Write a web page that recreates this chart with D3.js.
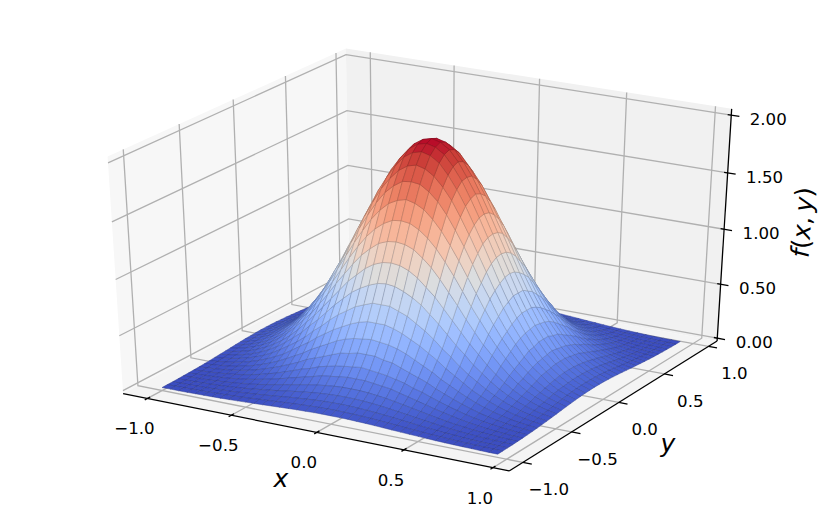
<!DOCTYPE html>
<html>
<head>
<meta charset="utf-8">
<script src="https://cdn.jsdelivr.net/npm/d3@7"></script>
<style>
  body { margin: 0; background: #fff; }
  text { font-family: "DejaVu Sans"; fill: #000; }
</style>
</head>
<body>
<svg id="chart" width="830" height="520"></svg>
<script>
var gridX = [-1,-.95,-.9,-.85,-.8,-.75,-.7,-.65,-.6,-.55,-.5,-.45,-.4,-.35,-.3,-.25,-.2,-.15,-.1,-.05,0,.05,.1,.15,.2,.25,.3,.35,.4,.45,.5,.55,.6,.65,.7,.75,.8,.85,.9,.95];
var gridY = [-1,-.95,-.9,-.85,-.8,-.75,-.7,-.65,-.6,-.55,-.5,-.45,-.4,-.35,-.3,-.25,-.2,-.15,-.1,-.05,0,.05,.1,.15,.2,.25,.3,.35,.4,.45,.5,.55,.6,.65,.7,.75,.8,.85,.9,.95];

// heights, rows run along y, columns along x
var surfaceZ = [
[.001,.002,.002,.003,.005,.006,.008,.01,.013,.016,.02,.023,.027,.031,.035,.039,.043,.045,.048,.049,.049,.049,.048,.045,.043,.039,.035,.031,.027,.023,.02,.016,.013,.01,.008,.006,.005,.003,.002,.002],
[.002,.003,.004,.005,.007,.009,.012,.015,.019,.023,.028,.034,.039,.045,.051,.056,.061,.065,.068,.07,.071,.07,.068,.065,.061,.056,.051,.045,.039,.034,.028,.023,.019,.015,.012,.009,.007,.005,.004,.003],
[.002,.004,.005,.007,.009,.012,.016,.021,.026,.033,.04,.047,.055,.063,.072,.079,.086,.092,.096,.099,.1,.099,.096,.092,.086,.079,.072,.063,.055,.047,.04,.033,.026,.021,.016,.012,.009,.007,.005,.004],
[.003,.005,.007,.01,.013,.017,.023,.029,.036,.045,.055,.065,.076,.088,.099,.11,.119,.127,.133,.137,.138,.137,.133,.127,.119,.11,.099,.088,.076,.065,.055,.045,.036,.029,.023,.017,.013,.01,.007,.005],
[.005,.007,.009,.013,.018,.023,.031,.039,.049,.061,.074,.089,.104,.119,.134,.149,.162,.172,.181,.186,.187,.186,.181,.172,.162,.149,.134,.119,.104,.089,.074,.061,.049,.039,.031,.023,.018,.013,.009,.007],
[.006,.009,.012,.017,.023,.031,.041,.052,.066,.082,.099,.118,.138,.159,.179,.198,.22,.23,.24,.25,.25,.25,.24,.23,.22,.198,.179,.159,.138,.118,.099,.082,.066,.052,.041,.031,.023,.017,.012,.009],
[.008,.012,.016,.023,.031,.041,.053,.068,.086,.107,.129,.154,.181,.21,.23,.26,.28,.3,.31,.32,.33,.32,.31,.3,.28,.26,.23,.21,.181,.154,.129,.107,.086,.068,.053,.041,.031,.023,.016,.012],
[.01,.015,.021,.029,.039,.052,.068,.088,.111,.137,.166,.198,.23,.27,.3,.33,.36,.39,.4,.42,.42,.42,.4,.39,.36,.33,.3,.27,.23,.198,.166,.137,.111,.088,.068,.052,.039,.029,.021,.015],
[.013,.019,.026,.036,.049,.066,.086,.111,.139,.172,.21,.25,.29,.34,.38,.42,.46,.49,.51,.52,.53,.52,.51,.49,.46,.42,.38,.34,.29,.25,.21,.172,.139,.111,.086,.066,.049,.036,.026,.019],
[.016,.023,.033,.045,.061,.082,.107,.137,.172,.21,.26,.31,.36,.42,.47,.52,.56,.6,.63,.65,.65,.65,.63,.6,.56,.52,.47,.42,.36,.31,.26,.21,.172,.137,.107,.082,.061,.045,.033,.023],
[.02,.028,.04,.055,.074,.099,.129,.166,.21,.26,.31,.37,.44,.5,.57,.63,.68,.73,.76,.79,.79,.79,.76,.73,.68,.63,.57,.5,.44,.37,.31,.26,.21,.166,.129,.099,.074,.055,.04,.028],
[.023,.034,.047,.065,.089,.118,.154,.198,.25,.31,.37,.45,.52,.6,.68,.75,.82,.87,.91,.94,.95,.94,.91,.87,.82,.75,.68,.6,.52,.45,.37,.31,.25,.198,.154,.118,.089,.065,.047,.034],
[.027,.039,.055,.076,.104,.138,.181,.23,.29,.36,.44,.52,.61,.7,.79,.88,.95,1.02,1.07,1.1,1.11,1.1,1.07,1.02,.95,.88,.79,.7,.61,.52,.44,.36,.29,.23,.181,.138,.104,.076,.055,.039],
[.031,.045,.063,.088,.119,.159,.21,.27,.34,.42,.5,.6,.7,.81,.91,1.01,1.1,1.17,1.23,1.26,1.27,1.26,1.23,1.17,1.1,1.01,.91,.81,.7,.6,.5,.42,.34,.27,.21,.159,.119,.088,.063,.045],
[.035,.051,.072,.099,.134,.179,.23,.3,.38,.47,.57,.68,.79,.91,1.03,1.14,1.24,1.32,1.38,1.42,1.43,1.42,1.38,1.32,1.24,1.14,1.03,.91,.79,.68,.57,.47,.38,.3,.23,.179,.134,.099,.072,.051],
[.039,.056,.079,.11,.149,.198,.26,.33,.42,.52,.63,.75,.88,1.01,1.14,1.26,1.37,1.46,1.53,1.57,1.59,1.57,1.53,1.46,1.37,1.26,1.14,1.01,.88,.75,.63,.52,.42,.33,.26,.198,.149,.11,.079,.056],
[.043,.061,.086,.119,.162,.22,.28,.36,.46,.56,.68,.82,.95,1.1,1.24,1.37,1.49,1.59,1.66,1.71,1.72,1.71,1.66,1.59,1.49,1.37,1.24,1.1,.95,.82,.68,.56,.46,.36,.28,.22,.162,.119,.086,.061],
[.045,.065,.092,.127,.172,.23,.3,.39,.49,.6,.73,.87,1.02,1.17,1.32,1.46,1.59,1.69,1.77,1.82,1.84,1.82,1.77,1.69,1.59,1.46,1.32,1.17,1.02,.87,.73,.6,.49,.39,.3,.23,.172,.127,.092,.065],
[.048,.068,.096,.133,.181,.24,.31,.4,.51,.63,.76,.91,1.07,1.23,1.38,1.53,1.66,1.77,1.86,1.91,1.93,1.91,1.86,1.77,1.66,1.53,1.38,1.23,1.07,.91,.76,.63,.51,.4,.31,.24,.181,.133,.096,.068],
[.049,.07,.099,.137,.186,.25,.32,.42,.52,.65,.79,.94,1.1,1.26,1.42,1.57,1.71,1.82,1.91,1.96,1.98,1.96,1.91,1.82,1.71,1.57,1.42,1.26,1.1,.94,.79,.65,.52,.42,.32,.25,.186,.137,.099,.07],
[.049,.071,.1,.138,.187,.25,.33,.42,.53,.65,.79,.95,1.11,1.27,1.43,1.59,1.72,1.84,1.93,1.98,2,1.98,1.93,1.84,1.72,1.59,1.43,1.27,1.11,.95,.79,.65,.53,.42,.33,.25,.187,.138,.1,.071],
[.049,.07,.099,.137,.186,.25,.32,.42,.52,.65,.79,.94,1.1,1.26,1.42,1.57,1.71,1.82,1.91,1.96,1.98,1.96,1.91,1.82,1.71,1.57,1.42,1.26,1.1,.94,.79,.65,.52,.42,.32,.25,.186,.137,.099,.07],
[.048,.068,.096,.133,.181,.24,.31,.4,.51,.63,.76,.91,1.07,1.23,1.38,1.53,1.66,1.77,1.86,1.91,1.93,1.91,1.86,1.77,1.66,1.53,1.38,1.23,1.07,.91,.76,.63,.51,.4,.31,.24,.181,.133,.096,.068],
[.045,.065,.092,.127,.172,.23,.3,.39,.49,.6,.73,.87,1.02,1.17,1.32,1.46,1.59,1.69,1.77,1.82,1.84,1.82,1.77,1.69,1.59,1.46,1.32,1.17,1.02,.87,.73,.6,.49,.39,.3,.23,.172,.127,.092,.065],
[.043,.061,.086,.119,.162,.22,.28,.36,.46,.56,.68,.82,.95,1.1,1.24,1.37,1.49,1.59,1.66,1.71,1.72,1.71,1.66,1.59,1.49,1.37,1.24,1.1,.95,.82,.68,.56,.46,.36,.28,.22,.162,.119,.086,.061],
[.039,.056,.079,.11,.149,.198,.26,.33,.42,.52,.63,.75,.88,1.01,1.14,1.26,1.37,1.46,1.53,1.57,1.59,1.57,1.53,1.46,1.37,1.26,1.14,1.01,.88,.75,.63,.52,.42,.33,.26,.198,.149,.11,.079,.056],
[.035,.051,.072,.099,.134,.179,.23,.3,.38,.47,.57,.68,.79,.91,1.03,1.14,1.24,1.32,1.38,1.42,1.43,1.42,1.38,1.32,1.24,1.14,1.03,.91,.79,.68,.57,.47,.38,.3,.23,.179,.134,.099,.072,.051],
[.031,.045,.063,.088,.119,.159,.21,.27,.34,.42,.5,.6,.7,.81,.91,1.01,1.1,1.17,1.23,1.26,1.27,1.26,1.23,1.17,1.1,1.01,.91,.81,.7,.6,.5,.42,.34,.27,.21,.159,.119,.088,.063,.045],
[.027,.039,.055,.076,.104,.138,.181,.23,.29,.36,.44,.52,.61,.7,.79,.88,.95,1.02,1.07,1.1,1.11,1.1,1.07,1.02,.95,.88,.79,.7,.61,.52,.44,.36,.29,.23,.181,.138,.104,.076,.055,.039],
[.023,.034,.047,.065,.089,.118,.154,.198,.25,.31,.37,.45,.52,.6,.68,.75,.82,.87,.91,.94,.95,.94,.91,.87,.82,.75,.68,.6,.52,.45,.37,.31,.25,.198,.154,.118,.089,.065,.047,.034],
[.02,.028,.04,.055,.074,.099,.129,.166,.21,.26,.31,.37,.44,.5,.57,.63,.68,.73,.76,.79,.79,.79,.76,.73,.68,.63,.57,.5,.44,.37,.31,.26,.21,.166,.129,.099,.074,.055,.04,.028],
[.016,.023,.033,.045,.061,.082,.107,.137,.172,.21,.26,.31,.36,.42,.47,.52,.56,.6,.63,.65,.65,.65,.63,.6,.56,.52,.47,.42,.36,.31,.26,.21,.172,.137,.107,.082,.061,.045,.033,.023],
[.013,.019,.026,.036,.049,.066,.086,.111,.139,.172,.21,.25,.29,.34,.38,.42,.46,.49,.51,.52,.53,.52,.51,.49,.46,.42,.38,.34,.29,.25,.21,.172,.139,.111,.086,.066,.049,.036,.026,.019],
[.01,.015,.021,.029,.039,.052,.068,.088,.111,.137,.166,.198,.23,.27,.3,.33,.36,.39,.4,.42,.42,.42,.4,.39,.36,.33,.3,.27,.23,.198,.166,.137,.111,.088,.068,.052,.039,.029,.021,.015],
[.008,.012,.016,.023,.031,.041,.053,.068,.086,.107,.129,.154,.181,.21,.23,.26,.28,.3,.31,.32,.33,.32,.31,.3,.28,.26,.23,.21,.181,.154,.129,.107,.086,.068,.053,.041,.031,.023,.016,.012],
[.006,.009,.012,.017,.023,.031,.041,.052,.066,.082,.099,.118,.138,.159,.179,.198,.22,.23,.24,.25,.25,.25,.24,.23,.22,.198,.179,.159,.138,.118,.099,.082,.066,.052,.041,.031,.023,.017,.012,.009],
[.005,.007,.009,.013,.018,.023,.031,.039,.049,.061,.074,.089,.104,.119,.134,.149,.162,.172,.181,.186,.187,.186,.181,.172,.162,.149,.134,.119,.104,.089,.074,.061,.049,.039,.031,.023,.018,.013,.009,.007],
[.003,.005,.007,.01,.013,.017,.023,.029,.036,.045,.055,.065,.076,.088,.099,.11,.119,.127,.133,.137,.138,.137,.133,.127,.119,.11,.099,.088,.076,.065,.055,.045,.036,.029,.023,.017,.013,.01,.007,.005],
[.002,.004,.005,.007,.009,.012,.016,.021,.026,.033,.04,.047,.055,.063,.072,.079,.086,.092,.096,.099,.1,.099,.096,.092,.086,.079,.072,.063,.055,.047,.04,.033,.026,.021,.016,.012,.009,.007,.005,.004],
[.002,.003,.004,.005,.007,.009,.012,.015,.019,.023,.028,.034,.039,.045,.051,.056,.061,.065,.068,.07,.071,.07,.068,.065,.061,.056,.051,.045,.039,.034,.028,.023,.019,.015,.012,.009,.007,.005,.004,.003]
];

var xTicks = [-1, -.5, 0, .5, 1];
var yTicks = [-1, -.5, 0, .5, 1];
var zTicks = [0, .5, 1, 1.5, 2];
var xTickLabels = ["\u22121.0", "\u22120.5", "0.0", "0.5", "1.0"];
var yTickLabels = ["\u22121.0", "\u22120.5", "0.0", "0.5", "1.0"];
var zTickLabels = ["0.00", "0.50", "1.00", "1.50", "2.00"];
// matplotlib coolwarm
var coolwarm = ["#3b4cc0","#4d68d7","#6282ea","#779af7","#8db0fe","#a3c2ff","#b8d0f9","#ccd9ee","#dddddd","#ecd3c5","#f5c4ad","#f7b194","#f49a7b","#ec7f63","#de604d","#cb3e38","#b40426"];

var XMIN = -1.147, XMAX = 1.09, YMIN = -1.137, YMAX = 1.1, ZMIN = -.027, ZTOP = 2.054;
var DIST = 10;

var svg = d3.select("#chart");

// box coordinates, centred on the middle of the cube
var boxX = d3.scaleLinear().domain([XMIN, XMAX]).range([-.5, .5]);
var boxY = d3.scaleLinear().domain([YMIN, YMAX]).range([-.5, .5]);
var boxZ = d3.scaleLinear().domain([ZMIN, 2.08]).range([-.5, .5]);
var screenX = d3.scaleLinear().domain([-.1, .1]).range([-20.9, 870.3]);
var screenY = d3.scaleLinear().domain([-.1, .1]).range([525.3, -23.3]);
var colorScale = d3.scaleLinear()
    .domain(coolwarm.map(function (d, i) { return 2 * i / (coolwarm.length - 1); }))
    .range(coolwarm)
    .interpolate(d3.interpolateRgb)
    .clamp(true);

// camera of a 3d axes at elev 30, azim -60
var U = [.866, .5, 0], V = [-.25, .433, .866], N = [.433, -.75, .5];

function dot(a, b) { return a[0] * b[0] + a[1] * b[1] + a[2] * b[2]; }

function depth(x, y, z) {
  return DIST - dot(N, [boxX(x), boxY(y), boxZ(z)]);
}

function project(x, y, z) {
  var p = [boxX(x), boxY(y), boxZ(z)];
  var d = DIST - dot(N, p);
  return [screenX(dot(U, p) / d), screenY(dot(V, p) / d)];
}

function pathOf(points) {
  return "M" + points.map(function (p) { return project(p[0], p[1], p[2]).join(","); }).join("L");
}

// panes
var panes = [
  {fill: "#f7f7f7", pts: [[XMIN, YMIN, ZMIN], [XMIN, YMAX, ZMIN], [XMIN, YMAX, ZTOP], [XMIN, YMIN, ZTOP]]},
  {fill: "#f1f1f1", pts: [[XMIN, YMAX, ZMIN], [XMAX, YMAX, ZMIN], [XMAX, YMAX, ZTOP], [XMIN, YMAX, ZTOP]]},
  {fill: "#f4f4f4", pts: [[XMIN, YMIN, ZMIN], [XMAX, YMIN, ZMIN], [XMAX, YMAX, ZMIN], [XMIN, YMAX, ZMIN]]}
];
svg.append("g").selectAll("path").data(panes).enter().append("path")
    .attr("d", function (d) { return pathOf(d.pts) + "Z"; })
    .style("fill", function (d) { return d.fill; });

// grid lines run over the floor and up the walls
var gridLines = [];
xTicks.forEach(function (t) { gridLines.push([[t, YMIN, ZMIN], [t, YMAX, ZMIN], [t, YMAX, ZTOP]]); });
yTicks.forEach(function (t) { gridLines.push([[XMAX, t, ZMIN], [XMIN, t, ZMIN], [XMIN, t, ZTOP]]); });
zTicks.forEach(function (t) { gridLines.push([[XMIN, YMIN, t], [XMIN, YMAX, t], [XMAX, YMAX, t]]); });
svg.append("g").selectAll("path").data(gridLines).enter().append("path")
    .attr("d", pathOf)
    .style("fill", "none")
    .style("stroke", "#b0b0b0")
    .style("stroke-width", 1.3);

// axis lines
var axisLines = [
  [[XMIN, YMIN, ZMIN], [XMAX, YMIN, ZMIN]],
  [[XMAX, YMIN, ZMIN], [XMAX, YMAX, ZMIN]],
  [[XMAX, YMAX, ZMIN], [XMAX, YMAX, ZTOP]]
];
var tickMarks = [];
xTicks.forEach(function (t) { tickMarks.push([[t, YMIN - .025, ZMIN], [t, YMIN + .025, ZMIN]]); });
yTicks.forEach(function (t) { tickMarks.push([[XMAX, t, ZMIN], [XMAX + .05, t, ZMIN]]); });
zTicks.forEach(function (t) { tickMarks.push([[XMAX - .02, YMAX, t], [XMAX + .045, YMAX, t]]); });
svg.append("g").selectAll("path").data(axisLines.concat(tickMarks)).enter().append("path")
    .attr("d", pathOf)
    .style("fill", "none")
    .style("stroke", "#000")
    .style("stroke-width", 1.3);

// surface cells, far ones first
var cells = [];
gridY.slice(0, -1).forEach(function (y0, j) {
  gridX.slice(0, -1).forEach(function (x0, i) {
    var x1 = gridX[i + 1], y1 = gridY[j + 1];
    var z = [surfaceZ[j][i], surfaceZ[j][i + 1], surfaceZ[j + 1][i + 1], surfaceZ[j + 1][i]];
    cells.push({
      pts: [[x0, y0, z[0]], [x1, y0, z[1]], [x1, y1, z[2]], [x0, y1, z[3]]],
      z: d3.mean(z),
      far: depth((x0 + x1) / 2, (y0 + y1) / 2, d3.mean(z))
    });
  });
});
cells.sort(function (a, b) { return b.far - a.far; });

svg.append("g").selectAll("path").data(cells).enter().append("path")
    .attr("d", function (d) { return pathOf(d.pts) + "Z"; })
    .style("fill", function (d) { return colorScale(d.z); })
    .style("stroke", function (d) { return d3.color(colorScale(d.z)).darker(1).formatHex(); })
    .style("stroke-width", .45);

// tick labels sit at a fixed distance from their tick
function tickText(cls, values, labels, place, dx, dy) {
  svg.append("g").selectAll("text." + cls).data(values).enter().append("text")
      .attr("class", cls)
      .attr("x", function (d) { return place(d)[0] + dx; })
      .attr("y", function (d) { return place(d)[1] + dy; })
      .attr("dy", ".36em")
      .attr("text-anchor", "middle")
      .style("font-size", "16.67px")
      .text(function (d, i) { return labels[i]; });
}
tickText("xt", xTicks, xTickLabels, function (t) { return project(t, YMIN, ZMIN); }, -13, 30);
tickText("yt", yTicks, yTickLabels, function (t) { return project(XMAX, t, ZMIN); }, 26, 27);
tickText("zt", zTicks, zTickLabels, function (t) { return project(XMAX, YMAX, t); }, 37, 4);

// axis labels
svg.append("text").attr("x", 281).attr("y", 487).attr("text-anchor", "middle")
    .style("font-size", "25px").style("font-style", "italic").text("x");
svg.append("text").attr("x", 668).attr("y", 452).attr("text-anchor", "middle")
    .style("font-size", "25px").style("font-style", "italic").text("y");
var zLabel = svg.append("text")
    .attr("transform", "translate(811,223) rotate(-86)")
    .attr("text-anchor", "middle")
    .style("font-size", "25px");
zLabel.append("tspan").style("font-style", "italic").text("f");
zLabel.append("tspan").text("(");
zLabel.append("tspan").style("font-style", "italic").text("x");
zLabel.append("tspan").text(",\u2009");
zLabel.append("tspan").style("font-style", "italic").text("y");
zLabel.append("tspan").text(")");
</script>
</body>
</html>
